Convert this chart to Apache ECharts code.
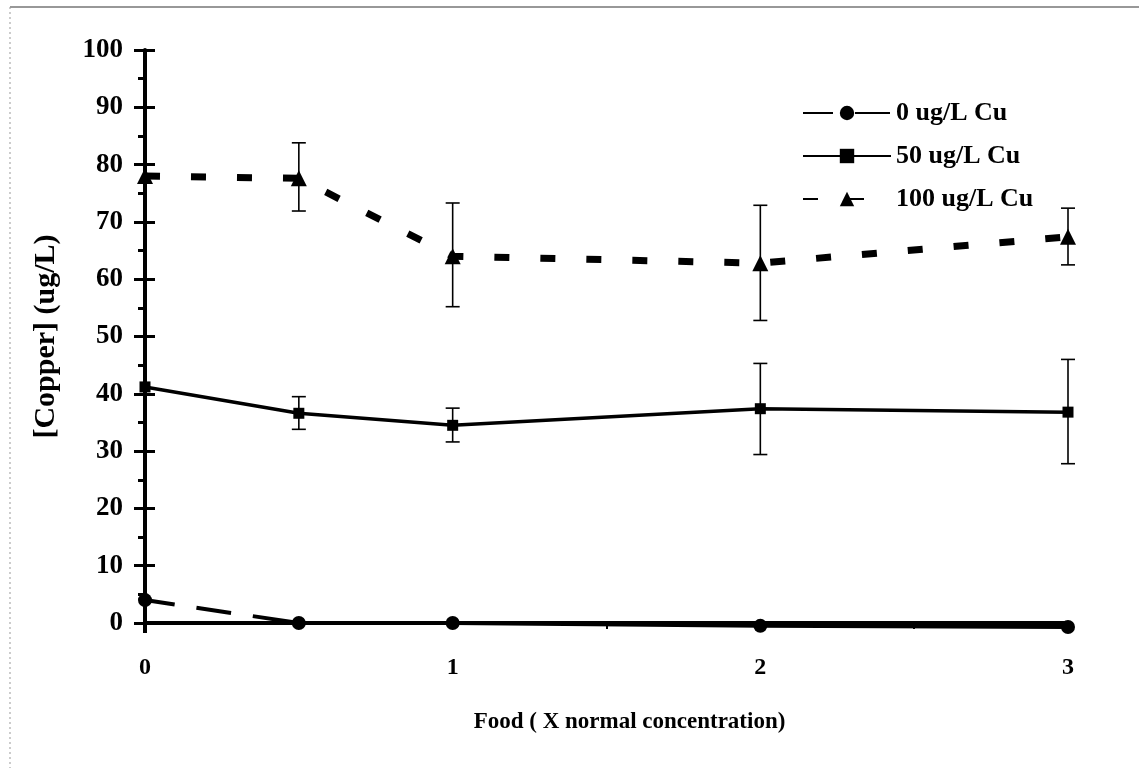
<!DOCTYPE html>
<html>
<head>
<meta charset="utf-8">
<script src="https://cdn.jsdelivr.net/npm/echarts@6/dist/echarts.min.js"></script>
<style>
html,body{margin:0;padding:0;background:#fff;}
#chart{width:1139px;height:768px;}
</style>
</head>
<body>
<div id="chart"></div>
<script>
// ---- data ----
const food = [0, 0.5, 1, 2, 3];
const seriesNames = ['0 ug/L Cu', '50 ug/L Cu', '100 ug/L Cu'];
const cu0 = [4.0, 0.0, 0.0, -0.5, -0.7];
const cu50 = [41.2, 36.6, 34.5, 37.4, 36.8];
const cu50Low = [null, 33.8, 31.6, 29.4, 27.8];
const cu50High = [null, 39.5, 37.5, 45.3, 46.0];
const cu100 = [78.0, 77.6, 64.0, 62.8, 67.4];
const cu100Low = [null, 71.9, 55.2, 52.8, 62.5];
const cu100High = [null, 83.8, 73.3, 72.9, 72.4];
const xTickLabels = ['0', '1', '2', '3'];
const xTitle = 'Food ( X normal concentration)';
const yTitle = '[Copper] (ug/L)';

const font = 'Liberation Serif';
const pts = (ys) => food.map((x, i) => [x, ys[i]]);
const errs = (lo, hi) => food.map((x, i) => [x, lo[i], hi[i]]).filter(d => d[1] != null);

function errRender(params, api) {
  const x = api.value(0), lo = api.value(1), hi = api.value(2);
  const pLo = api.coord([x, lo]);
  const pHi = api.coord([x, hi]);
  const cap = 7;
  const st = { stroke: '#000', lineWidth: 1.6 };
  return {
    type: 'group',
    children: [
      { type: 'line', shape: { x1: pLo[0], y1: pLo[1], x2: pHi[0], y2: pHi[1] }, style: st },
      { type: 'line', shape: { x1: pLo[0] - cap, y1: pLo[1], x2: pLo[0] + cap, y2: pLo[1] }, style: st },
      { type: 'line', shape: { x1: pHi[0] - cap, y1: pHi[1], x2: pHi[0] + cap, y2: pHi[1] }, style: st }
    ]
  };
}

const chart = echarts.init(document.getElementById('chart'));
chart.setOption({
  backgroundColor: '#fff',
  animation: false,
  grid: { left: 145, right: 71, top: 50, bottom: 145, containLabel: false },
  legend: {
    data: seriesNames,
    orient: 'vertical',
    left: 797, top: 95,
    itemWidth: 88, itemHeight: 18, itemGap: 17,
    textStyle: { fontFamily: font, fontWeight: 'bold', fontSize: 26, color: '#000' }
  },
  xAxis: {
    type: 'value', min: 0, max: 3, interval: 0.5,
    axisLine: { onZero: true, lineStyle: { color: '#000', width: 4 } },
    axisTick: { show: true, length: 6, lineStyle: { color: '#000', width: 2 } },
    splitLine: { show: false },
    axisLabel: {
      margin: 33, color: '#000', fontFamily: font, fontWeight: 'bold', fontSize: 24,
      formatter: v => (Number.isInteger(v) ? xTickLabels[v] : '')
    },
    name: xTitle, nameLocation: 'middle', nameGap: 88,
    nameTextStyle: { fontFamily: font, fontWeight: 'bold', fontSize: 23, color: '#000', padding: [0, 0, 0, 46] }
  },
  yAxis: [{
    type: 'value', min: 0, max: 100, interval: 10,
    axisLine: { onZero: true, lineStyle: { color: '#000', width: 4 } },
    axisTick: { show: true, length: 11, lineStyle: { color: '#000', width: 3 } },
    minorTick: { show: true, splitNumber: 2, length: 7, lineStyle: { color: '#000', width: 3 } },
    splitLine: { show: false },
    axisLabel: { margin: 22, color: '#000', fontFamily: font, fontWeight: 'bold', fontSize: 27 },
    name: yTitle, nameLocation: 'middle', nameGap: 84,
    nameTextStyle: { fontFamily: font, fontWeight: 'bold', fontSize: 30, color: '#000' }
  }, {
    type: 'value', min: 0, max: 100, interval: 10, position: 'left',
    axisLine: { show: false },
    axisTick: { show: true, inside: true, length: 10, lineStyle: { color: '#000', width: 3 } },
    axisLabel: { show: false }, splitLine: { show: false }
  }],
  graphic: [
    { type: 'line', shape: { x1: 10, y1: 7, x2: 1139, y2: 7 }, style: { stroke: '#333', lineWidth: 1.2 } },
    { type: 'line', shape: { x1: 10, y1: 7, x2: 10, y2: 768 }, style: { stroke: '#999', lineWidth: 1, lineDash: [2, 3] } },
    { type: 'line', shape: { x1: 145, y1: 623, x2: 145, y2: 633 }, style: { stroke: '#000', lineWidth: 4 } }
  ],
  series: [
    {
      name: seriesNames[0], type: 'line', data: pts(cu0), clip: false,
      symbol: 'circle', symbolSize: 14,
      lineStyle: { color: '#000', width: 4, type: [30, 22, 35, 22, 5000, 1] },
      itemStyle: { color: '#000' }, z: 3
    },
    {
      name: seriesNames[1], type: 'line', data: pts(cu50), clip: false,
      symbol: 'rect', symbolSize: 11,
      lineStyle: { color: '#000', width: 3.5 },
      itemStyle: { color: '#000' }, z: 3
    },
    {
      name: seriesNames[2], type: 'line', data: pts(cu100), clip: false,
      symbol: 'triangle', symbolSize: 16,
      lineStyle: { color: '#000', width: 7, type: [15, 31] },
      itemStyle: { color: '#000' }, z: 3
    },
    { type: 'custom', data: errs(cu50Low, cu50High), renderItem: errRender, z: 2, silent: true },
    { type: 'custom', data: errs(cu100Low, cu100High), renderItem: errRender, z: 2, silent: true }
  ]
});
</script>
</body>
</html>
